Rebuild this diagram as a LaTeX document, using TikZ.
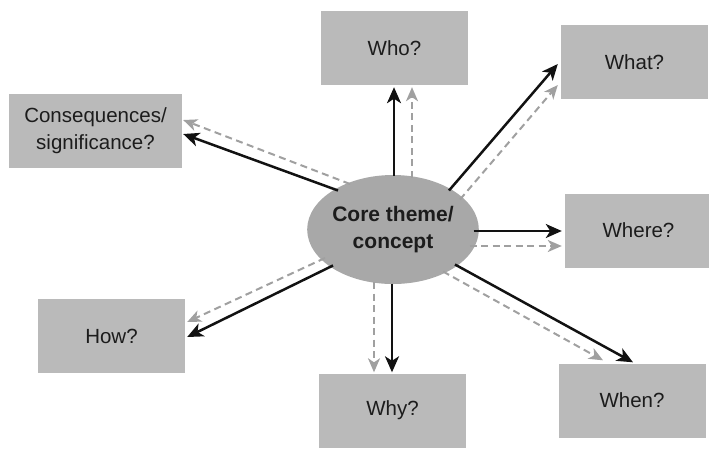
\documentclass[tikz,border=0pt]{standalone}
\usepackage{fontspec}
\setmainfont{Liberation Sans}
\usetikzlibrary{arrows.meta,calc,shapes.geometric}

\definecolor{boxfill}{RGB}{186,186,186}
\definecolor{corefill}{RGB}{168,168,168}
\definecolor{textdark}{RGB}{28,28,28}
\definecolor{linedark}{RGB}{18,18,18}
\definecolor{linelight}{RGB}{160,160,160}

\tikzset{
  qbox/.style={rectangle, fill=boxfill, minimum width=147pt, minimum height=74pt,
    inner sep=0pt, align=center, text=textdark,
    font=\fontsize{20.5}{27}\selectfont},
  corenode/.style={ellipse, fill=corefill, minimum width=161pt, minimum height=109pt,
    inner sep=0pt, align=center, text=textdark,
    font=\fontsize{21}{27}\selectfont\bfseries},
  solidarrow/.style={draw=linedark, line width=2.5pt,
    -{Stealth[length=16pt,width=14pt,inset=4.5pt]}},
  dasharrow/.style={draw=linelight, line width=2pt, dash pattern=on 7pt off 4.5pt,
    -{Stealth[length=14pt,width=12pt,inset=4pt]}},
}

\begin{document}
\begin{tikzpicture}[x=1pt,y=-1pt]
  \useasboundingbox (0,0) rectangle (709,448);

  % question boxes around the centre
  \node[qbox] (who)   at (394.5,48)   {Who?};
  \node[qbox] (what)  at (634.5,62)   {What?};
  \node[qbox] (where) at (638.5,230.5){Where?};
  \node[qbox] (when)  at (632,400.5)  {When?};
  \node[qbox] (why)   at (392.5,410.5){Why?};
  \node[qbox] (how)   at (111.5,336)  {How?};
  \node[qbox, minimum width=173pt] (cons) at (95.5,131) {Consequences/\\significance?};

  % central concept
  \node[corenode] (core) at (393,229.5) {Core theme/\\concept};

  % paired connectors: solid dark and dashed light
  \draw[solidarrow] ($(core.center)+(1,-54)$)   -- ($(who.south)+(-0.5,2)$);
  \draw[dasharrow]  ($(core.center)+(19,-52)$)  -- ($(who.south)+(17.5,2)$);

  \draw[solidarrow] ($(core.center)+(56,-39)$)  -- ($(what.west)+(-3,2)$);
  \draw[dasharrow]  ($(core.center)+(67,-30)$)  -- ($(what.west)+(-3,23)$);

  \draw[solidarrow] ($(core.center)+(80.5,1.5)$) -- ($(where.west)+(-3,0.5)$);
  \draw[dasharrow]  ($(core.center)+(76.5,16.5)$) -- ($(where.west)+(-3,15.5)$);

  \draw[solidarrow] ($(core.center)+(62,35)$)   -- ($(when.north)+(1,-1)$);
  \draw[dasharrow]  ($(core.center)+(50,42)$)   -- ($(when.north)+(-29,-3)$);

  \draw[solidarrow] ($(core.center)+(-1,54)$)   -- ($(why.north)+(-0.5,-1)$);
  \draw[dasharrow]  ($(core.center)+(-19,52.5)$) -- ($(why.north)+(-18.5,-1)$);

  \draw[solidarrow] ($(core.center)+(-60,36)$)  -- ($(how.east)+(2,1)$);
  \draw[dasharrow]  ($(core.center)+(-68,28.5)$) -- ($(how.east)+(2,-14)$);

  \draw[solidarrow] ($(core.center)+(-55,-39)$) -- ($(cons.east)+(1,3)$);
  \draw[dasharrow]  ($(core.center)+(-43,-45.5)$) -- ($(cons.east)+(1,-11)$);
\end{tikzpicture}
\end{document}
